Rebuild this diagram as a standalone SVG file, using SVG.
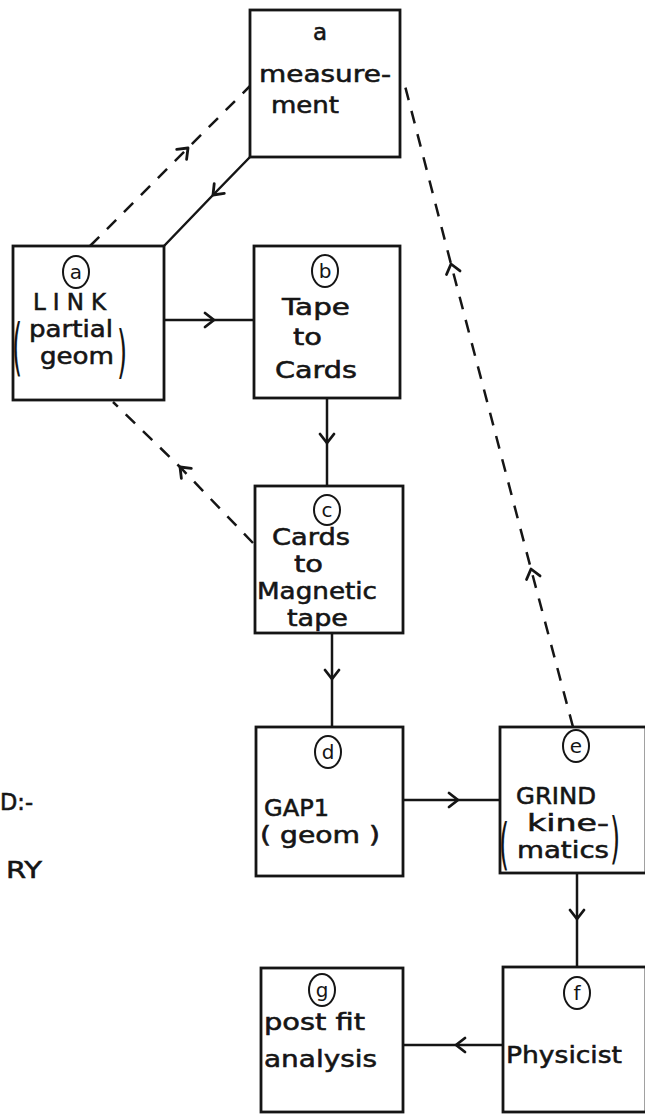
<svg xmlns="http://www.w3.org/2000/svg" width="645" height="1115" viewBox="0 0 645 1115">
<style>
.box{fill:none;stroke:#151515;stroke-width:2.8}
.t{font-family:"DejaVu Sans",sans-serif;font-size:23px;fill:#151515;stroke:#151515;stroke-width:0.55}
.lt{font-family:"DejaVu Sans",sans-serif;font-size:20px;fill:#151515;text-anchor:middle}
.c{fill:none;stroke:#151515;stroke-width:2}
.ln{fill:none;stroke:#151515;stroke-width:2.5;marker-mid:url(#chev)}
.dash{fill:none;stroke:#151515;stroke-width:2.5;stroke-dasharray:13 11;marker-mid:url(#chev)}
.par{font-family:"DejaVu Sans",sans-serif;font-size:26px;fill:#151515}
</style>
<defs>
<marker id="chev" viewBox="-12 -10 16 20" markerWidth="16" markerHeight="20" refX="0" refY="0" orient="auto" markerUnits="userSpaceOnUse">
<path d="M-9,-7 L0,0 L-9,7" fill="none" stroke="#151515" stroke-width="2.8" stroke-linecap="round" stroke-linejoin="round"/>
</marker>
</defs>
<rect width="645" height="1115" fill="#ffffff"/>

<g id="connectors">
<path class="ln" d="M250,157 L213,195 L164,246"/>
<path class="dash" d="M90,246 L188,148 L250,86"/>
<path class="ln" d="M164,320 L214,320 L254,320"/>
<path class="ln" d="M327,398 L327,443 L327,486"/>
<path class="dash" d="M253,543 L180,467 L113,402"/>
<path class="ln" d="M332,633 L332,679 L332,727"/>
<path class="ln" d="M403,800 L458,800 L500,800"/>
<path class="dash" d="M573,727 L531,569 L451,264 L404,82"/>
<path class="ln" d="M577,873 L577,919 L577,967"/>
<path class="ln" d="M503,1045 L456,1045 L403,1045"/>
</g>

<g id="node-measurement">
<rect class="box" x="250" y="10" width="150" height="147"/>
<text class="t"><tspan x="313" y="40">a</tspan><tspan x="259" y="82" textLength="132" lengthAdjust="spacingAndGlyphs">measure-</tspan><tspan x="271" y="113" textLength="68" lengthAdjust="spacingAndGlyphs">ment</tspan></text>
</g>

<g id="node-link">
<rect class="box" x="13" y="246" width="151" height="154"/>
<ellipse class="c" cx="76" cy="272" rx="13" ry="16"/>
<text class="lt" x="76" y="279">a</text>
<text class="t"><tspan x="33" y="310" textLength="73" lengthAdjust="spacing">LINK</tspan><tspan x="29" y="337" textLength="84" lengthAdjust="spacingAndGlyphs">partial</tspan><tspan x="40" y="364" textLength="74" lengthAdjust="spacingAndGlyphs">geom</tspan></text>
<text class="par" transform="translate(12,368) scale(1,2.4)">(</text>
<text class="par" transform="translate(117,371) scale(1,2.2)">)</text>
</g>

<g id="node-tape-to-cards">
<rect class="box" x="254" y="246" width="146" height="152"/>
<ellipse class="c" cx="325" cy="271" rx="13" ry="16"/>
<text class="lt" x="325" y="278">b</text>
<text class="t"><tspan x="282" y="315" textLength="68" lengthAdjust="spacingAndGlyphs">Tape</tspan><tspan x="293" y="345" textLength="29" lengthAdjust="spacingAndGlyphs">to</tspan><tspan x="275" y="378" textLength="82" lengthAdjust="spacingAndGlyphs">Cards</tspan></text>
</g>

<g id="node-cards-to-magnetic-tape">
<rect class="box" x="255" y="486" width="148" height="147"/>
<ellipse class="c" cx="327" cy="510" rx="13" ry="15"/>
<text class="lt" x="327" y="517">c</text>
<text class="t"><tspan x="272" y="545" textLength="78" lengthAdjust="spacingAndGlyphs">Cards</tspan><tspan x="294" y="572" textLength="29" lengthAdjust="spacingAndGlyphs">to</tspan><tspan x="257" y="599" textLength="120" lengthAdjust="spacingAndGlyphs">Magnetic</tspan><tspan x="287" y="626" textLength="61" lengthAdjust="spacingAndGlyphs">tape</tspan></text>
</g>

<g id="node-gap1">
<rect class="box" x="256" y="727" width="147" height="149"/>
<ellipse class="c" cx="328" cy="752" rx="13" ry="16"/>
<text class="lt" x="328" y="759">d</text>
<text class="t"><tspan x="264" y="816" textLength="65" lengthAdjust="spacingAndGlyphs">GAP1</tspan><tspan x="260" y="843" textLength="120" lengthAdjust="spacingAndGlyphs">( geom )</tspan></text>
</g>

<g id="node-grind">
<rect class="box" x="500" y="727" width="146" height="146"/>
<ellipse class="c" cx="576" cy="746" rx="13" ry="16"/>
<text class="lt" x="576" y="753">e</text>
<text class="t"><tspan x="516" y="804" textLength="80" lengthAdjust="spacingAndGlyphs">GRIND</tspan><tspan x="527" y="831" textLength="82" lengthAdjust="spacingAndGlyphs">kine-</tspan><tspan x="517" y="858" textLength="92" lengthAdjust="spacingAndGlyphs">matics</tspan></text>
<text class="par" transform="translate(499,863) scale(1,2.1)">(</text>
<text class="par" transform="translate(610,857) scale(1,2.1)">)</text>
</g>

<g id="node-physicist">
<rect class="box" x="503" y="967" width="143" height="145"/>
<ellipse class="c" cx="577" cy="993" rx="13" ry="16"/>
<text class="lt" x="577" y="1000">f</text>
<text class="t" x="506" y="1063" textLength="116" lengthAdjust="spacingAndGlyphs">Physicist</text>
</g>

<g id="node-post-fit">
<rect class="box" x="261" y="968" width="142" height="144"/>
<ellipse class="c" cx="322" cy="990" rx="13" ry="16"/>
<text class="lt" x="322" y="997">g</text>
<text class="t"><tspan x="264" y="1030" textLength="101" lengthAdjust="spacingAndGlyphs">post fit</tspan><tspan x="264" y="1067" textLength="113" lengthAdjust="spacingAndGlyphs">analysis</tspan></text>
</g>

<g id="margin-text">
<text class="t" x="0" y="810" textLength="33" lengthAdjust="spacingAndGlyphs">D:-</text>
<text class="t" x="6" y="878" textLength="36" lengthAdjust="spacingAndGlyphs">RY</text>
</g>
</svg>
